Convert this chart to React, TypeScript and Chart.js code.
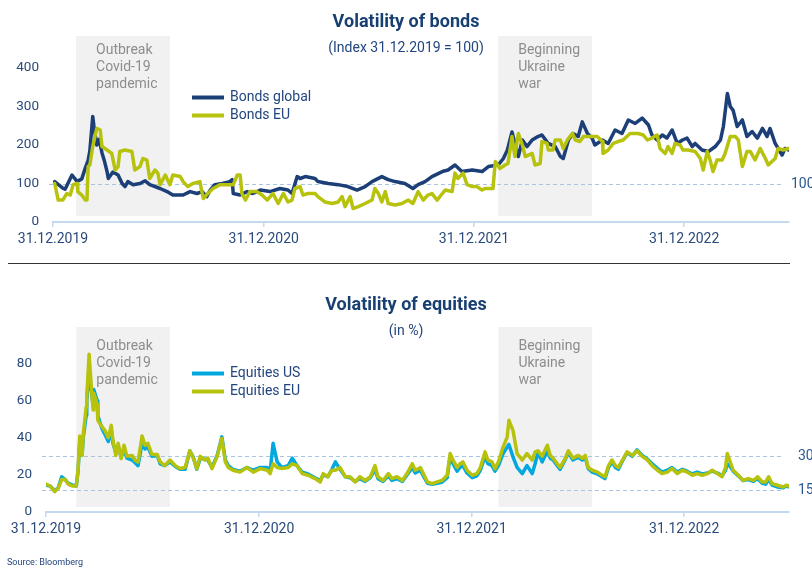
import React, { useEffect, useRef } from "react";
import { Chart, registerables } from "chart.js";

Chart.register(...registerables);

// ---------- shared x axis (days since 31.12.2019) ----------
const xTickDays = [0, 366, 731, 1096];
const xTickLabels = ["31.12.2019", "31.12.2020", "31.12.2021", "31.12.2022"];
const annotationLines = [
  ["Outbreak", "Covid-19", "pandemic"],
  ["Beginning", "Ukraine", "war"],
];

// ---------- bonds ----------
const bondsTitle = "Volatility of bonds";
const bondsSubtitle = "(Index 31.12.2019 = 100)";
const bondsYTicks = [0, 100, 200, 300, 400];
const bondsRefValues = [100];
const bondsRefLabels = ["100"];
const bondsShadeDays = [[40, 203], [773, 936]];
const bondsLegend = ["Bonds global", "Bonds EU"];

const bondsGlobalDays = [3,17,21,33,42,50,56,61,64,69,71,76,80,85,89,94,96,104,113,120,125,130,139,151,160,168,186,198,208,226,238,250,259,267,273,281,294,307,311,313,325,337,347,360,377,394,408,415,424,429,438,455,460,478,495,512,528,542,554,571,582,594,611,625,634,646,658,676,686,698,710,728,745,756,773,782,789,797,802,808,815,823,832,842,849,860,872,881,886,895,903,912,919,928,936,941,954,964,976,988,999,1011,1023,1034,1040,1049,1058,1066,1075,1084,1093,1101,1110,1115,1127,1138,1150,1159,1164,1171,1176,1181,1188,1197,1205,1214,1223,1232,1240,1245,1254,1266,1271,1277];
const bondsGlobalValues = [105,88,85,122,105,112,140,160,185,274,250,200,215,180,160,130,113,130,122,100,92,105,97,100,107,97,87,79,70,70,79,74,79,66,83,97,100,105,110,74,70,79,74,83,79,87,83,74,118,113,118,113,105,100,97,92,83,92,105,118,110,105,100,87,97,105,118,131,135,148,131,135,131,144,148,165,187,234,205,170,213,196,213,222,226,204,196,170,165,213,230,222,260,230,218,200,213,204,239,230,265,256,270,252,226,213,226,218,239,204,213,218,196,204,187,183,196,213,248,334,300,290,248,265,222,235,218,243,222,243,204,174,191,187];

const bondsEUDays = [3,9,17,24,30,35,42,43,50,56,59,61,64,69,76,82,85,94,102,108,113,116,125,137,142,151,156,163,168,177,182,186,195,203,208,221,226,234,243,255,261,269,278,290,302,313,320,325,328,334,342,354,363,372,382,391,400,408,415,420,429,434,443,455,460,472,485,495,502,507,516,521,530,542,554,559,565,571,577,582,594,606,617,625,634,643,651,658,667,676,681,693,698,703,712,719,728,736,745,750,764,768,776,785,790,797,802,808,815,820,832,837,846,849,858,860,868,872,881,886,893,902,907,915,921,933,945,954,955,964,973,981,990,1002,1016,1025,1032,1040,1049,1054,1063,1068,1075,1080,1089,1094,1103,1115,1124,1129,1136,1141,1146,1153,1162,1167,1176,1185,1190,1197,1205,1211,1219,1228,1237,1242,1254,1259,1268,1277];
const bondsEUValues = [100,57,57,74,70,97,100,79,70,57,57,144,148,196,243,239,196,187,178,135,144,183,187,183,135,144,165,161,113,135,127,97,122,97,122,118,105,92,100,105,61,74,87,97,97,97,122,122,74,57,79,79,70,57,74,48,74,52,57,87,92,70,74,74,66,52,48,52,66,40,66,35,40,48,57,87,74,52,79,48,44,48,57,48,79,57,70,74,57,74,83,79,127,113,127,97,92,92,83,87,87,157,139,148,152,222,170,230,200,170,178,148,152,209,204,187,187,213,213,191,213,230,213,209,222,222,222,209,178,187,204,209,213,230,230,226,213,218,226,191,178,196,178,204,200,187,187,183,165,135,183,161,131,161,161,178,222,222,213,144,183,183,161,191,165,148,165,191,187,191];

// ---------- equities ----------
const equitiesTitle = "Volatility of equities";
const equitiesSubtitle = "(in %)";
const equitiesYTicks = [0, 20, 40, 60, 80];
const equitiesRefValues = [30, 12];
const equitiesRefLabels = ["30", "15"];
const equitiesShadeDays = [[52, 213], [777, 938]];
const equitiesLegend = ["Equities US", "Equities EU"];

const equitiesDays = [0,7,15,21,27,33,38,46,52,55,58,62,64,69,70,74,77,81,82,88,89,96,101,107,112,115,120,124,129,134,139,148,153,158,165,170,175,182,191,196,204,213,222,230,239,247,253,259,265,273,278,285,294,302,308,313,321,333,345,356,368,380,385,390,397,405,416,423,431,440,450,462,471,476,484,491,497,505,514,522,531,539,548,557,565,570,579,588,594,603,612,620,629,634,643,648,655,663,672,680,689,694,699,706,711,716,723,732,740,746,754,759,766,771,777,785,792,795,802,809,818,826,835,840,845,852,861,866,871,878,883,892,897,905,914,921,926,931,938,947,955,960,966,972,978,983,990,998,1007,1015,1024,1033,1041,1050,1058,1067,1075,1084,1093,1101,1110,1118,1127,1136,1144,1153,1161,1167,1170,1175,1180,1189,1197,1206,1215,1222,1230,1236,1241,1247,1256,1266,1271,1276];
const equitiesEU = [15,14,11,13,17.5,17.5,15,14,14,22.5,41,30.5,42,56.6,62,85,71,55,64,58,49.4,46,44,40,46.7,38.6,30.5,37,28.8,36,30,30.5,27.9,27,41,36,37,31,31,27,25,28,25,23.4,24,33,29,23.4,30,28,29,23.4,30,39.6,27,24,22.5,21.5,24,21.5,23.4,22.5,20.7,26,24,23.4,24,26,25,20.7,19.8,18,16.2,20.7,19,22.5,22.5,24,19,19,16.2,19,17,19,25,19,17,20.7,18,19,17,20.7,26,22.5,24,20.7,16.2,15.3,16.2,17,19.8,31.5,28,24,26,27,22.5,19.8,20.7,24,32.4,28,27,23.4,27,35,40.4,49.4,44,31.5,28,31.5,28,32.4,33,30,36,30.5,29,26,24,29,33,29,30.5,29,30.5,24,22.5,21.5,19.8,19,25,28,25,24,28,32.4,30.5,33,30,28,25,22.5,20.7,21.5,23.4,20.7,22.5,21.5,19.8,20.7,19.8,20.7,22.5,20.7,19,24,31.5,27,22.5,19.8,17,18,17,19,16.2,16.2,19,15.3,14.4,13.5,14.4,14];
const equitiesUS = [14.5,14,11.5,13,19,17.5,15.5,14.5,14,22,38,31,40,52,60,75,68,57,66,60,52,45,42,38,44,37,32,35,30,33,29,28,26.5,25,37,34,35,30,30.5,26,25,27,24.5,23,23,33,29.5,23,29,28.5,28,24,30.5,40.5,28,25,23,22,24,22.5,24,24,22,37,27,24,25,29,25,21.5,20.5,18.5,17,20,19,23,27,23,19,18.5,16.5,18,16.5,18.5,23,18,16.5,19.5,17,18,16.5,20,24,21,22.5,19.5,15.5,15,15.5,16,18.5,30,26,22,24,25,21,18.5,19.5,22.5,30,26,25,22,25,31.5,35,36.4,29.7,24,20.7,25,20.7,26,32.4,27,33,29,28,25,23,28.5,32,28,29.5,28,29.5,23.5,21.5,20.5,19,18,24,27,24,23,27.5,32,30,33.5,30.5,28.5,26,23.5,21.5,22.5,24,21.5,23,22,20.5,21.5,20.5,21,22,21,19.5,22.5,26,24.5,22,19.5,17,17.5,16.5,18,15.5,15,17.5,14.5,13.5,13,14,13.5];

const sourceText = "Source: Bloomberg";

// ---------- styles ----------
const FONT = "Roboto, 'Noto Sans', Arial, sans-serif";
const NAVY = "#1c3f77";
const LIME = "#b7c20d";
const CYAN = "#00a8df";
const TITLE_COLOR = "#183f72";
const TICK_COLOR = "#2a4a7c";
const LEGEND_COLOR = "#23467f";
const REF_LABEL_COLOR = "#2a5891";
const AXIS_COLOR = "#c4d9f0";
const REF_COLOR = "#a9c4de";
const SHADE_COLOR = "#f1f1f1";
const ANNOT_COLOR = "#8d8d8d";

const toPoints = (xs: number[], ys: number[]) => xs.map((x, i) => ({ x, y: ys[i] }));

type Panel = {
  title: string;
  subtitle: string;
  titleY: number;
  subtitleY: number;
  yMax: number;
  yTicks: number[];
  xMax: number;
  left: number;
  top: number;
  bottom: number;
  shades: number[][];
  shadeTop: number;
  shadeBottom: number;
  annotY: number;
  refValues: number[];
  refLabels: string[];
  refLabelX: number;
  legend: string[];
  legendColors: string[];
  legendY: number[];
  datasets: any[];
  separatorY?: number;
  source?: string;
};

function panelPlugin(p: Panel) {
  return {
    id: "panelDecor",
    beforeDatasetsDraw(chart: any) {
      const { ctx, chartArea } = chart;
      const xs = chart.scales.x;
      const ys = chart.scales.y;
      ctx.save();
      p.shades.forEach(([a, b], i) => {
        const x0 = xs.getPixelForValue(a);
        const x1 = xs.getPixelForValue(b);
        ctx.fillStyle = SHADE_COLOR;
        ctx.fillRect(x0, p.shadeTop, x1 - x0, p.shadeBottom - p.shadeTop);
        ctx.fillStyle = ANNOT_COLOR;
        ctx.font = `14px ${FONT}`;
        ctx.textAlign = "left";
        ctx.textBaseline = "middle";
        annotationLines[i].forEach((t, j) => ctx.fillText(t, x0 + 20, p.annotY + j * 17));
      });
      ctx.strokeStyle = REF_COLOR;
      ctx.lineWidth = 1;
      ctx.setLineDash([4, 3]);
      p.refValues.forEach((v, i) => {
        const py = Math.round(ys.getPixelForValue(v)) + 0.5;
        ctx.beginPath();
        ctx.moveTo(chartArea.left - 4, py);
        ctx.lineTo(chartArea.right - 5, py);
        ctx.stroke();
        ctx.fillStyle = REF_LABEL_COLOR;
        ctx.font = `14px ${FONT}`;
        ctx.textAlign = "left";
        ctx.textBaseline = "middle";
        ctx.fillText(p.refLabels[i], p.refLabelX, py);
      });
      ctx.restore();
    },
    afterDraw(chart: any) {
      const { ctx } = chart;
      ctx.save();
      ctx.textAlign = "center";
      ctx.textBaseline = "middle";
      ctx.fillStyle = TITLE_COLOR;
      ctx.font = `bold 18px ${FONT}`;
      ctx.fillText(p.title, 406, p.titleY);
      ctx.font = `14px ${FONT}`;
      ctx.fillStyle = LEGEND_COLOR;
      ctx.fillText(p.subtitle, 406, p.subtitleY);
      // legend
      p.legend.forEach((t, i) => {
        const ly = p.legendY[i];
        ctx.strokeStyle = p.legendColors[i];
        ctx.lineWidth = 4;
        ctx.beginPath();
        ctx.moveTo(192, ly);
        ctx.lineTo(224, ly);
        ctx.stroke();
        ctx.fillStyle = LEGEND_COLOR;
        ctx.font = `14px ${FONT}`;
        ctx.textAlign = "left";
        ctx.fillText(t, 230, ly);
      });
      if (p.separatorY !== undefined) {
        ctx.strokeStyle = "#333333";
        ctx.lineWidth = 1;
        ctx.beginPath();
        ctx.moveTo(8, p.separatorY + 0.5);
        ctx.lineTo(790, p.separatorY + 0.5);
        ctx.stroke();
      }
      if (p.source) {
        ctx.fillStyle = LEGEND_COLOR;
        ctx.font = `9px ${FONT}`;
        ctx.textAlign = "left";
        ctx.fillText(p.source, 7, 563);
      }
      ctx.restore();
    },
  };
}

function buildChart(canvas: HTMLCanvasElement, p: Panel) {
  return new Chart(canvas, {
    type: "line",
    data: { datasets: p.datasets },
    options: {
      animation: false,
      responsive: false,
      devicePixelRatio: 1,
      events: [],
      layout: { padding: { left: 0, right: 812 - 789, top: p.top, bottom: 0 } },
      plugins: { legend: { display: false }, title: { display: false }, tooltip: { enabled: false } },
      elements: { point: { radius: 0 }, line: { tension: 0, borderJoinStyle: "round", borderCapStyle: "round" } },
      scales: {
        x: {
          type: "linear",
          min: 0,
          max: p.xMax,
          afterBuildTicks: (s: any) => {
            s.ticks = xTickDays.map((v) => ({ value: v }));
          },
          afterFit: (s: any) => {
            s.height = 568 - p.bottom;
          },
          ticks: {
            autoSkip: false,
            maxRotation: 0,
            minRotation: 0,
            padding: 4,
            color: TICK_COLOR,
            font: { family: FONT, size: 14 },
            callback: (_v: any, i: number) => xTickLabels[i],
          },
          grid: { display: true, drawOnChartArea: false, drawTicks: true, tickLength: 5, color: AXIS_COLOR, lineWidth: 1.5 },
          border: { display: true, color: AXIS_COLOR, width: 2 },
        },
        y: {
          type: "linear",
          min: 0,
          max: p.yMax,
          afterBuildTicks: (s: any) => {
            s.ticks = p.yTicks.map((v) => ({ value: v }));
          },
          afterFit: (s: any) => {
            s.width = p.left;
          },
          ticks: { padding: 14, color: TICK_COLOR, font: { family: FONT, size: 13.5 } },
          grid: { display: false, drawTicks: false },
          border: { display: false },
        },
      },
    } as any,
    plugins: [panelPlugin(p)],
  });
}

export default function App() {
  const topRef = useRef<HTMLCanvasElement>(null);
  const botRef = useRef<HTMLCanvasElement>(null);

  useEffect(() => {
    const bonds: Panel = {
      title: bondsTitle,
      subtitle: bondsSubtitle,
      titleY: 22,
      subtitleY: 48,
      yMax: 400,
      yTicks: bondsYTicks,
      xMax: 1278,
      left: 53,
      top: 68,
      bottom: 222,
      shades: bondsShadeDays,
      shadeTop: 36,
      shadeBottom: 216,
      annotY: 50,
      refValues: bondsRefValues,
      refLabels: bondsRefLabels,
      refLabelX: 791,
      legend: bondsLegend,
      legendColors: [NAVY, LIME],
      legendY: [97.5, 115.5],
      separatorY: 263,
      datasets: [
        { label: bondsLegend[1], data: toPoints(bondsEUDays, bondsEUValues), borderColor: LIME, borderWidth: 3.5, order: 0 },
        { label: bondsLegend[0], data: toPoints(bondsGlobalDays, bondsGlobalValues), borderColor: NAVY, borderWidth: 3.5, order: 1 },
      ],
    };
    const equities: Panel = {
      title: equitiesTitle,
      subtitle: equitiesSubtitle,
      titleY: 305,
      subtitleY: 331.5,
      yMax: 90,
      yTicks: equitiesYTicks,
      xMax: 1276,
      left: 46,
      top: 345,
      bottom: 512,
      shades: equitiesShadeDays,
      shadeTop: 327,
      shadeBottom: 507,
      annotY: 346,
      refValues: equitiesRefValues,
      refLabels: equitiesRefLabels,
      refLabelX: 798,
      legend: equitiesLegend,
      legendColors: [CYAN, LIME],
      legendY: [373.5, 391.5],
      source: sourceText,
      datasets: [
        { label: equitiesLegend[1], data: toPoints(equitiesDays, equitiesEU), borderColor: LIME, borderWidth: 3.5, order: 0 },
        { label: equitiesLegend[0], data: toPoints(equitiesDays, equitiesUS), borderColor: CYAN, borderWidth: 3.5, order: 1 },
      ],
    };
    const c1 = buildChart(topRef.current!, bonds);
    const c2 = buildChart(botRef.current!, equities);
    return () => {
      c1.destroy();
      c2.destroy();
    };
  }, []);

  const canvasStyle: React.CSSProperties = { position: "absolute", left: 0, top: 0, width: 812, height: 568, display: "block" };
  return (
    <div style={{ position: "absolute", left: 0, top: 0, width: 812, height: 568, background: "#ffffff", overflow: "hidden" }}>
      <canvas ref={topRef} width={812} height={568} style={canvasStyle} />
      <canvas ref={botRef} width={812} height={568} style={canvasStyle} />
    </div>
  );
}
